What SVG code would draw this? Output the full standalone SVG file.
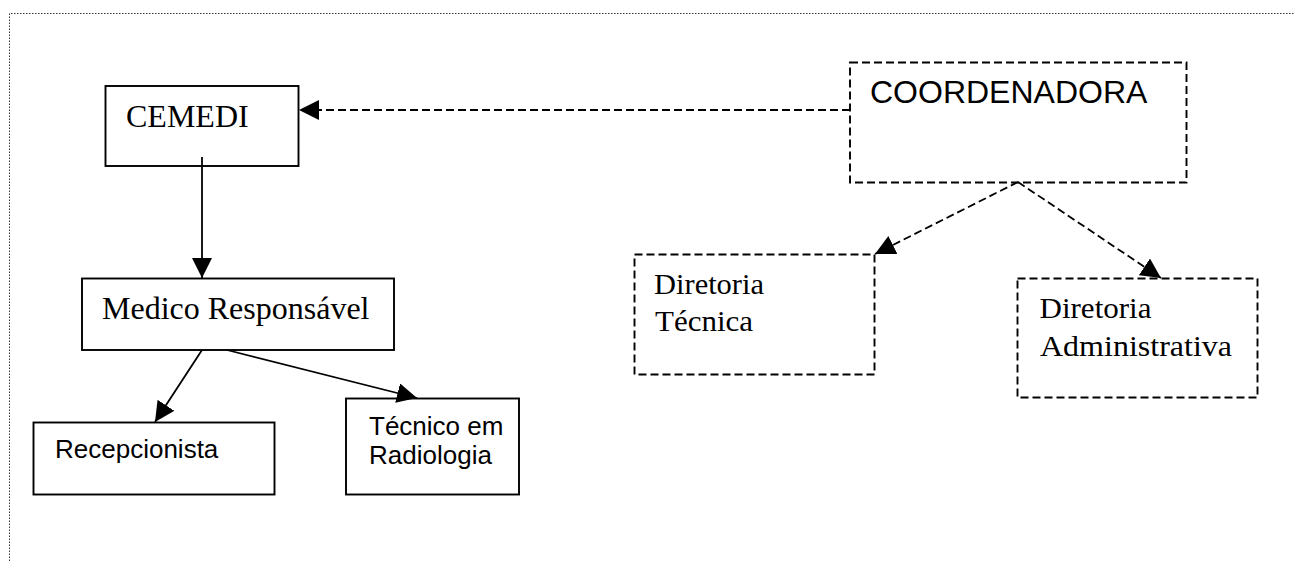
<svg xmlns="http://www.w3.org/2000/svg" width="1294" height="561" viewBox="0 0 1294 561">
<style>
.bg{fill:#fff}
.solid{fill:none;stroke:#000;stroke-width:1.9}
.dash{fill:none;stroke:#000;stroke-width:1.9;stroke-dasharray:8,4}
.frame{fill:none;stroke:#333;stroke-width:1;stroke-dasharray:1.5,1.5}
.serif{font-family:"Liberation Serif","Times New Roman",serif;fill:#000}
.sans{font-family:"Liberation Sans",Arial,sans-serif;fill:#000}
.line{fill:none;stroke:#000;stroke-width:1.8}
.dline{fill:none;stroke:#000;stroke-width:1.8;stroke-dasharray:8,4}
</style>
<defs>
<marker id="arr" viewBox="0 0 20 20" refX="20" refY="10" markerWidth="20" markerHeight="20" markerUnits="userSpaceOnUse" orient="auto">
<path d="M0,0 L20,10 L0,20 z" fill="#000"/>
</marker>
</defs>
<rect class="bg" x="0" y="0" width="1294" height="561"/>
<path class="frame" d="M9.5,561 L9.5,13.5 L1294,13.5"/>
<g id="connectors">
<line class="dline" x1="850" y1="110" x2="299" y2="110" marker-end="url(#arr)"/>
<line class="line" x1="202" y1="157" x2="202" y2="278" marker-end="url(#arr)"/>
<line class="line" x1="202" y1="350" x2="155" y2="422" marker-end="url(#arr)"/>
<line class="line" x1="227" y1="350" x2="417" y2="398" marker-end="url(#arr)"/>
<line class="dline" x1="1018" y1="182" x2="875" y2="254" marker-end="url(#arr)"/>
<line class="dline" x1="1018" y1="182" x2="1161" y2="278" marker-end="url(#arr)"/>
</g>
<g id="cemedi">
<rect class="solid" x="105.5" y="86" width="193" height="80"/>
<text class="serif" x="126" y="127" font-size="32">CEMEDI</text>
</g>
<g id="coordenadora">
<rect class="dash" x="850" y="62.5" width="336.5" height="120"/>
<text class="sans" x="870" y="102.5" font-size="32">COORDENADORA</text>
</g>
<g id="medico">
<rect class="solid" x="82" y="278.5" width="312" height="71.5"/>
<text class="serif" x="102" y="319" font-size="32">Medico Responsável</text>
</g>
<g id="recepcionista">
<rect class="solid" x="33.5" y="422.5" width="241" height="72"/>
<text class="sans" x="55" y="458" font-size="26">Recepcionista</text>
</g>
<g id="tecnico">
<rect class="solid" x="346" y="398.5" width="173" height="96"/>
<text class="sans" x="369" y="435" font-size="26">Técnico em</text>
<text class="sans" x="369" y="463.5" font-size="26">Radiologia</text>
</g>
<g id="diretoria-tecnica">
<rect class="dash" x="634.5" y="254.5" width="240" height="120"/>
<text class="serif" x="654" y="293.5" font-size="29" textLength="110" lengthAdjust="spacingAndGlyphs">Diretoria</text>
<text class="serif" x="655" y="331" font-size="29" textLength="98" lengthAdjust="spacingAndGlyphs">Técnica</text>
</g>
<g id="diretoria-administrativa">
<rect class="dash" x="1017.5" y="278.5" width="240" height="119"/>
<text class="serif" x="1039.5" y="317.5" font-size="29" textLength="112" lengthAdjust="spacingAndGlyphs">Diretoria</text>
<text class="serif" x="1040" y="356" font-size="29" textLength="192" lengthAdjust="spacingAndGlyphs">Administrativa</text>
</g>
</svg>
